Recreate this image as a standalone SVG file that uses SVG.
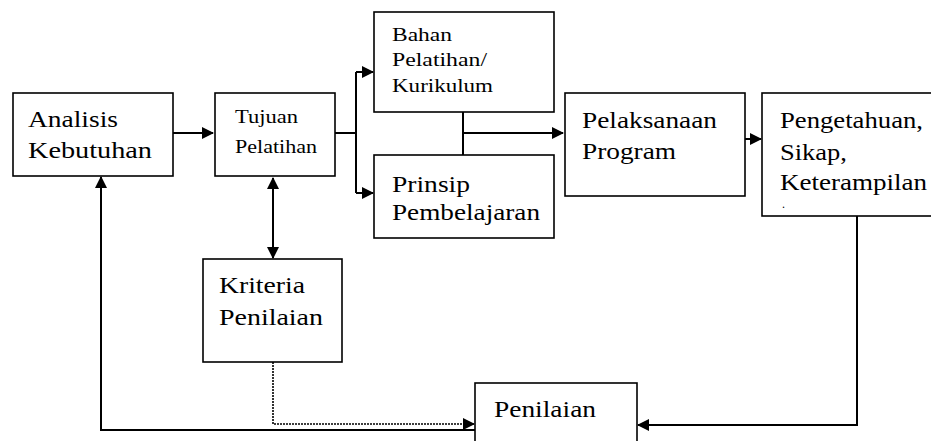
<svg xmlns="http://www.w3.org/2000/svg" width="931" height="441" viewBox="0 0 931 441">
<style>
.box{fill:#fff;stroke:#000;stroke-width:1.6}
.c{fill:none;stroke:#000;stroke-width:2}
.d{fill:none;stroke:#000;stroke-width:1.6;stroke-dasharray:2 1}
</style>
<defs>
<marker id="ah" markerUnits="userSpaceOnUse" markerWidth="12" markerHeight="12" refX="11" refY="6" orient="auto">
<path d="M0,0 L12,6 L0,12 Z" fill="#000"/>
</marker>
<marker id="as" markerUnits="userSpaceOnUse" markerWidth="12" markerHeight="12" refX="1" refY="6" orient="auto">
<path d="M12,0 L0,6 L12,12 Z" fill="#000"/>
</marker>
</defs>
<rect width="931" height="441" fill="#fff"/>
<g id="connectors">
<path class="c" d="M172,133 H213" marker-end="url(#ah)"/>
<path class="c" d="M335,133 H356 M356,72 V193"/>
<path class="c" d="M356,72 H373" marker-end="url(#ah)"/>
<path class="c" d="M356,193 H373" marker-end="url(#ah)"/>
<path class="c" d="M463,112 V155"/>
<path class="c" d="M463,133 H563" marker-end="url(#ah)"/>
<path class="c" d="M743,139 H761" marker-end="url(#ah)"/>
<path class="c" d="M857,216 V425 H638" marker-end="url(#ah)"/>
<path class="c" d="M273,178 V258" marker-start="url(#as)" marker-end="url(#ah)"/>
<path class="d" d="M273,362 V424 H474" marker-end="url(#ah)"/>
<path class="c" d="M475,430 H101 V177" marker-end="url(#ah)"/>
</g>
<g font-family="Liberation Serif, Times New Roman, serif" fill="#000">
<g id="analisis" font-size="24">
<rect class="box" x="13" y="93" width="160" height="83"/>
<text x="28" y="127" textLength="90" lengthAdjust="spacingAndGlyphs">Analisis</text>
<text x="28" y="158" textLength="124" lengthAdjust="spacingAndGlyphs">Kebutuhan</text>
</g>
<g id="tujuan" font-size="18">
<rect class="box" x="215" y="93" width="120" height="83"/>
<text x="235" y="123" textLength="63" lengthAdjust="spacingAndGlyphs">Tujuan</text>
<text x="235" y="153" textLength="82" lengthAdjust="spacingAndGlyphs">Pelatihan</text>
</g>
<g id="bahan" font-size="18">
<rect class="box" x="374" y="12" width="180" height="100"/>
<text x="392" y="41" textLength="60" lengthAdjust="spacingAndGlyphs">Bahan</text>
<text x="392" y="66" textLength="95" lengthAdjust="spacingAndGlyphs">Pelatihan/</text>
<text x="392" y="92" textLength="101" lengthAdjust="spacingAndGlyphs">Kurikulum</text>
</g>
<g id="prinsip" font-size="24">
<rect class="box" x="374" y="155" width="180" height="83"/>
<text x="392" y="192" textLength="78" lengthAdjust="spacingAndGlyphs">Prinsip</text>
<text x="392" y="220" textLength="148" lengthAdjust="spacingAndGlyphs">Pembelajaran</text>
</g>
<g id="pelaksanaan" font-size="24">
<rect class="box" x="565" y="93" width="180" height="103"/>
<text x="582" y="128" textLength="135" lengthAdjust="spacingAndGlyphs">Pelaksanaan</text>
<text x="582" y="159" textLength="94" lengthAdjust="spacingAndGlyphs">Program</text>
</g>
<g id="pengetahuan" font-size="24">
<rect class="box" x="762" y="93" width="180" height="123"/>
<text x="780" y="128" textLength="143" lengthAdjust="spacingAndGlyphs">Pengetahuan,</text>
<text x="780" y="160" textLength="67" lengthAdjust="spacingAndGlyphs">Sikap,</text>
<text x="780" y="190" textLength="147" lengthAdjust="spacingAndGlyphs">Keterampilan</text>
<text x="782" y="208" font-size="12">.</text>
</g>
<g id="kriteria" font-size="24">
<rect class="box" x="203" y="259" width="139" height="103"/>
<text x="219" y="293" textLength="86" lengthAdjust="spacingAndGlyphs">Kriteria</text>
<text x="219" y="325" textLength="104" lengthAdjust="spacingAndGlyphs">Penilaian</text>
</g>
<g id="penilaian" font-size="24">
<rect class="box" x="475" y="383" width="162" height="70"/>
<text x="494" y="417" textLength="102" lengthAdjust="spacingAndGlyphs">Penilaian</text>
</g>
</g>
</svg>
